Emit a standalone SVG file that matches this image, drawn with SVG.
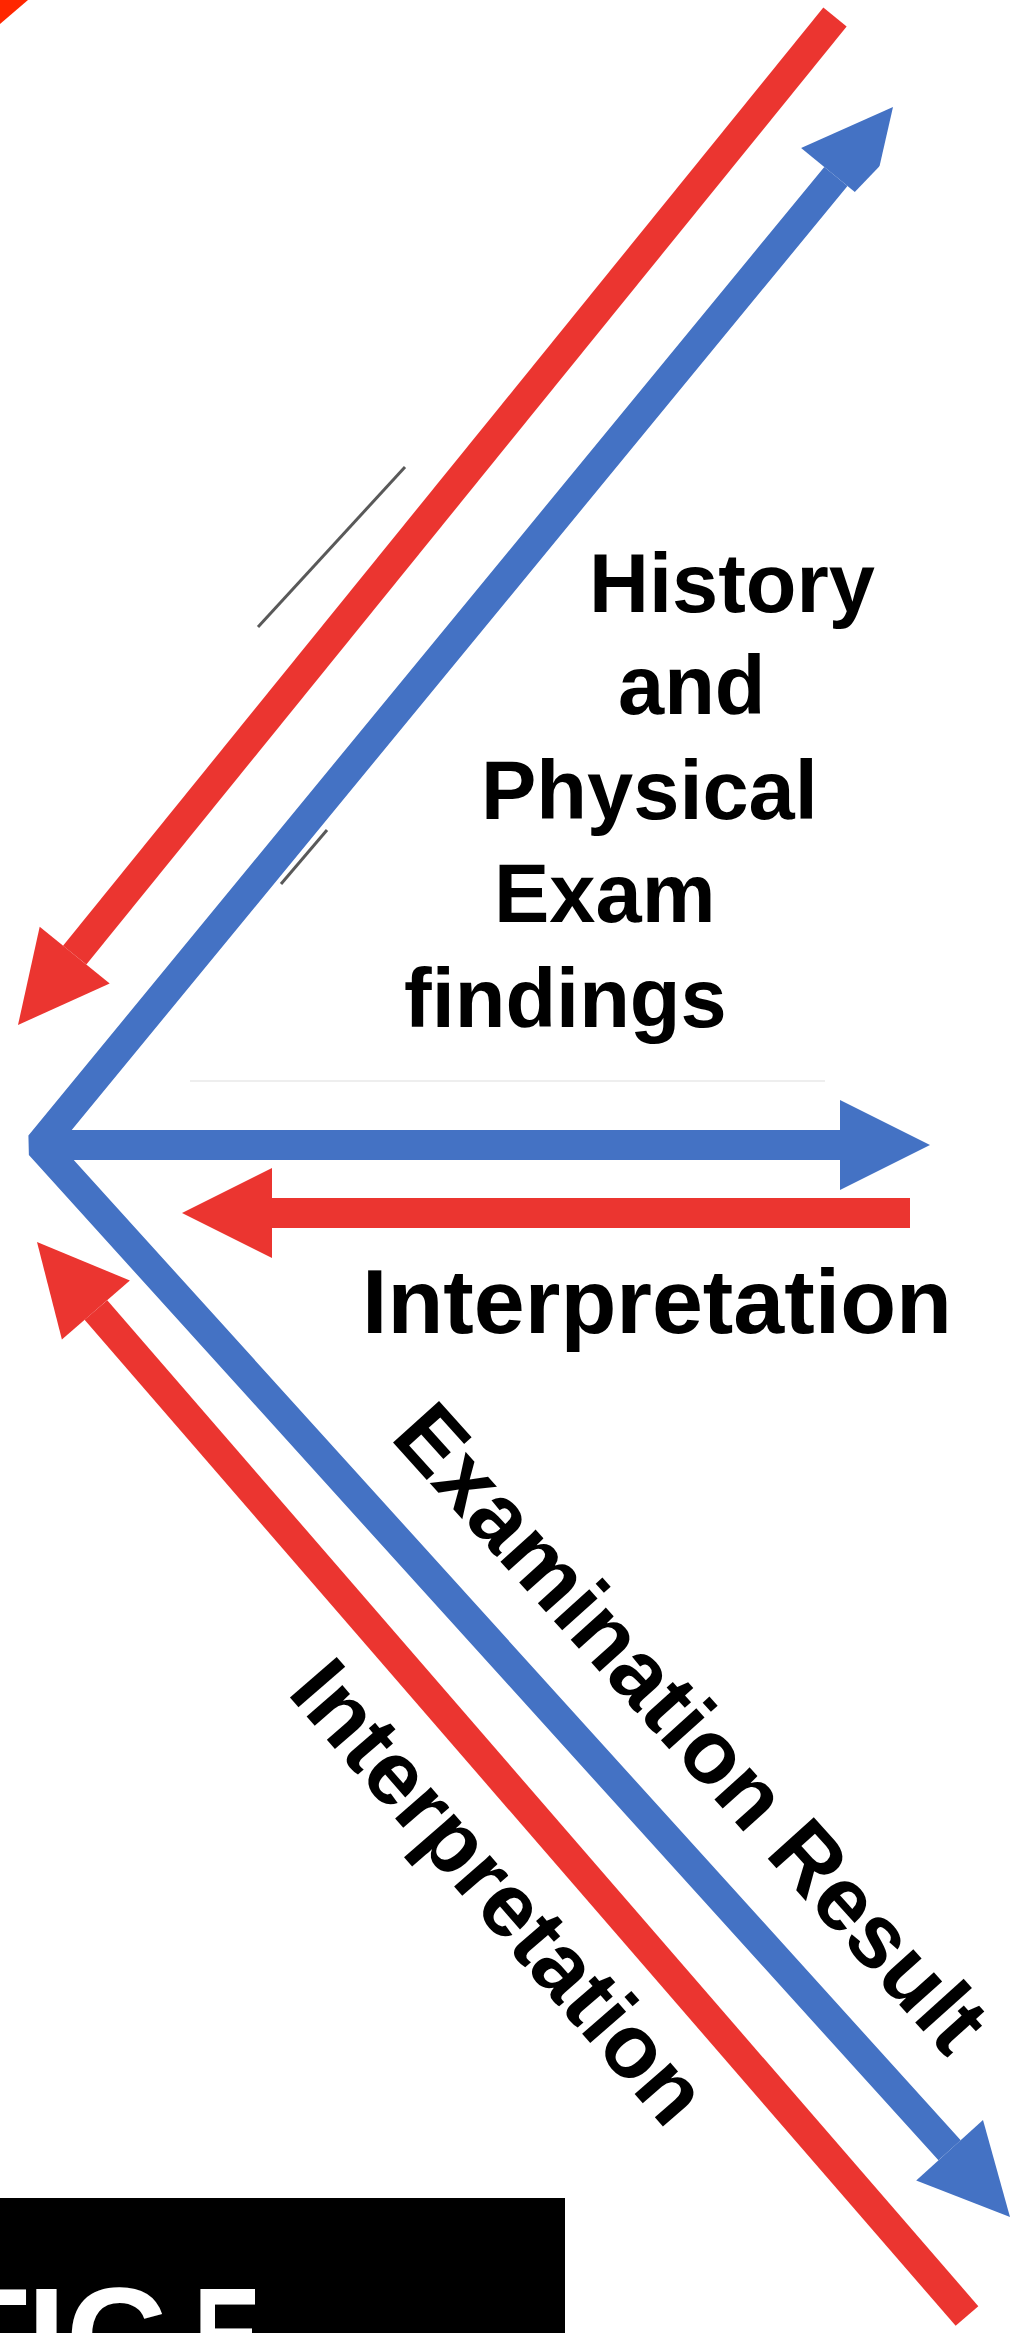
<svg xmlns="http://www.w3.org/2000/svg" width="1026" height="2333" viewBox="0 0 1026 2333">
<style>
.rs{stroke:#EB3530;stroke-width:30;fill:none}
.bs{stroke:#4472C4;stroke-width:30;fill:none}
.rh{fill:#EB3530}
.bh{fill:#4472C4}
.lbl{font-family:"Liberation Sans",Arial,Helvetica,sans-serif;font-weight:bold;fill:#000}
.tice{font-family:"Liberation Sans",Arial,Helvetica,sans-serif;font-weight:bold;fill:#fff;font-size:140px}
.art{stroke:#222;stroke-width:3;fill:none;opacity:0.75}
</style>
<rect width="1026" height="2333" fill="#fff"/>
<polygon points="0,0 28,0 0,24" fill="#FF2600"/>
<g id="connectors">
  <line x1="835" y1="17" x2="74.7" y2="955.1" class="rs"/>
  <polygon points="109.7,983.4 18,1025 39.7,926.8" class="rh"/>
  <path d="M835.9,176.5 L40,1145 L949.6,2150.3" class="bs" stroke-linejoin="bevel"/>
  <polygon points="801.1,147.9 893,107 870.7,205.1" class="bh"/>
  <line x1="40" y1="1145" x2="841" y2="1145" class="bs"/>
  <polygon points="840,1100 930,1145 840,1190" class="bh"/>
  <line x1="910" y1="1213" x2="271" y2="1213" class="rs"/>
  <polygon points="272,1168 182,1213 272,1258" class="rh"/>
  <polygon points="983,2120.1 1010,2217 916.2,2180.5" class="bh"/>
  <line x1="967" y1="2316" x2="95.9" y2="1310" class="rs"/>
  <polygon points="129.9,1280.5 37,1242 61.9,1339.5" class="rh"/>
</g>
<polygon points="897,148 850,197 858,225 930,225 930,148" fill="#fff"/>
<line x1="258" y1="627" x2="405" y2="467" class="art"/>
<line x1="281" y1="884" x2="327" y2="830" class="art"/>
<line x1="190" y1="1081" x2="825" y2="1081" stroke="#eeeeee" stroke-width="2"/>
<g id="label-history" class="lbl" font-size="83">
  <text x="589" y="612">History</text>
  <text x="618" y="714">and</text>
  <text x="481" y="819">Physical</text>
  <text x="494" y="922">Exam</text>
  <text x="404" y="1027">findings</text>
</g>
<g id="label-interpretation-h">
  <text class="lbl" x="362" y="1333" font-size="90" textLength="590" lengthAdjust="spacingAndGlyphs">Interpretation</text>
</g>
<g id="label-examination-result">
  <text class="lbl" font-size="90" transform="translate(389,1438) rotate(48)">Examination Result</text>
</g>
<g id="label-interpretation-d">
  <text class="lbl" font-size="90" transform="translate(286,1693) rotate(49)">Interpretation</text>
</g>
<g id="banner">
  <rect x="0" y="2198" width="565" height="135" fill="#000"/>
  <text class="tice" x="-58" y="2385">T</text>
  <text class="tice" x="27" y="2385">I</text>
  <text class="tice" x="66" y="2385">C</text>
  <text class="tice" transform="translate(201,2385) scale(0.72,1)" x="-10">E</text>
</g>
</svg>
